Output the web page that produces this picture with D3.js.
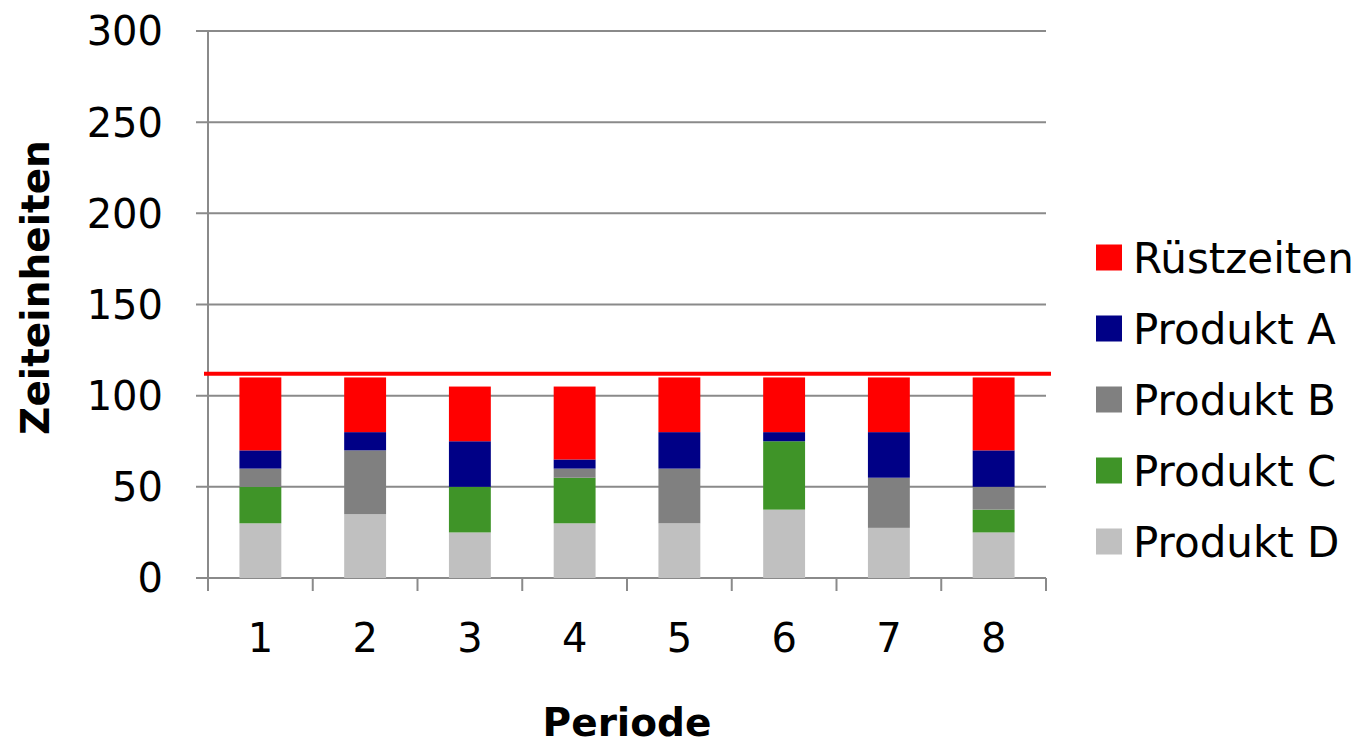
<!DOCTYPE html>
<html>
<head>
<meta charset="utf-8">
<script src="https://cdn.jsdelivr.net/npm/d3@7"></script>
<style>
  html, body { margin: 0; padding: 0; background: #fff; }
  svg { display: block; }
  text { font-family: "DejaVu Sans", sans-serif; fill: #000; }
</style>
</head>
<body>
<svg id="chart" width="1364" height="744"></svg>
<script>
// Periods on the x axis
const periods = ["1", "2", "3", "4", "5", "6", "7", "8"];

// Time units per period, stacked bottom to top
const produktD = [30, 35, 25, 30, 30, 37.5, 27.5, 25];
const produktC = [20, 0, 25, 25, 0, 37.5, 0, 12.5];
const produktB = [10, 35, 0, 5, 30, 0, 27.5, 12.5];
const produktA = [10, 10, 25, 5, 20, 5, 25, 20];
const ruestzeiten = [40, 30, 30, 40, 30, 30, 30, 40];

// Available capacity per period
const kapazitaet = 112;

const yTicks = [0, 50, 100, 150, 200, 250, 300];

const seriesNames = ["Produkt D", "Produkt C", "Produkt B", "Produkt A", "Rüstzeiten"];
const seriesValues = [produktD, produktC, produktB, produktA, ruestzeiten];
const seriesColors = ["#C0C0C0", "#3F9428", "#808080", "#000086", "#FF0000"];

const svg = d3.select("#chart");
const margin = { left: 208, right: 318, top: 31, bottom: 166 };
const W = 1364, H = 744;
const plotW = W - margin.left - margin.right;
const plotH = H - margin.top - margin.bottom;

const x = d3.scaleBand().domain(periods).range([margin.left, margin.left + plotW]).paddingInner(0.6).paddingOuter(0.3);
const xBand = d3.scaleBand().domain(periods).range([margin.left, margin.left + plotW]);
const y = d3.scaleLinear().domain([0, 300]).range([margin.top + plotH, margin.top]);

const gridColor = "#8A8A8A";

// Horizontal gridlines
svg.append("g")
  .selectAll("line")
  .data(yTicks)
  .join("line")
  .attr("x1", margin.left - 12)
  .attr("x2", margin.left + plotW)
  .attr("y1", d => y(d))
  .attr("y2", d => y(d))
  .attr("stroke", gridColor)
  .attr("stroke-width", 2);

// Y axis labels
svg.append("g")
  .selectAll("text")
  .data(yTicks)
  .join("text")
  .attr("x", 163)
  .attr("y", d => y(d))
  .attr("dy", "0.36em")
  .attr("text-anchor", "end")
  .style("font-size", "40px")
  .text(d => d);

// Stacked bars
const table = periods.map((p, i) => {
  const row = { period: p };
  seriesNames.forEach((s, k) => { row[s] = seriesValues[k][i]; });
  return row;
});
const stack = d3.stack().keys(seriesNames)(table);

svg.append("g")
  .selectAll("g")
  .data(stack)
  .join("g")
  .attr("fill", (d, k) => seriesColors[k])
  .selectAll("rect")
  .data(d => d.filter(s => s[1] - s[0] > 0))
  .join("rect")
  .attr("x", d => x(d.data.period))
  .attr("width", x.bandwidth())
  .attr("y", d => y(d[1]))
  .attr("height", d => y(d[0]) - y(d[1]));

// Axes lines and ticks
const axisG = svg.append("g").attr("stroke", gridColor).attr("stroke-width", 2);
axisG.append("line")
  .attr("x1", margin.left).attr("x2", margin.left)
  .attr("y1", margin.top).attr("y2", margin.top + plotH + 13);
axisG.selectAll("line.xt")
  .data(periods.slice(1).concat(["end"]))
  .join("line")
  .attr("class", "xt")
  .attr("x1", d => d === "end" ? margin.left + plotW : xBand(d))
  .attr("x2", d => d === "end" ? margin.left + plotW : xBand(d))
  .attr("y1", margin.top + plotH)
  .attr("y2", margin.top + plotH + 13);

// X axis labels
svg.append("g")
  .selectAll("text")
  .data(periods)
  .join("text")
  .attr("x", d => xBand(d) + xBand.bandwidth() / 2)
  .attr("y", 652)
  .attr("text-anchor", "middle")
  .style("font-size", "40px")
  .text(d => d);

// Capacity line
svg.append("line")
  .attr("x1", margin.left - 4)
  .attr("x2", margin.left + plotW + 5)
  .attr("y1", y(kapazitaet))
  .attr("y2", y(kapazitaet))
  .attr("stroke", "#FF0000")
  .attr("stroke-width", 4);

// Axis titles
svg.append("text")
  .attr("transform", `translate(49, ${y(150) - 17}) rotate(-90)`)
  .attr("text-anchor", "middle")
  .style("font-size", "39px")
  .style("font-weight", "bold")
  .text("Zeiteinheiten");

svg.append("text")
  .attr("x", xBand("4") + xBand.bandwidth())
  .attr("y", 736)
  .attr("text-anchor", "middle")
  .style("font-size", "39px")
  .style("font-weight", "bold")
  .text("Periode");

// Legend, top entry is the top of the stack
const legendOrder = seriesNames.map((n, k) => ({ name: n, color: seriesColors[k] })).reverse();
const legend = svg.append("g")
  .selectAll("g")
  .data(legendOrder)
  .join("g")
  .attr("transform", (d, i) => `translate(1096, ${257.5 + i * 71})`);
legend.append("rect")
  .attr("x", 0).attr("y", -13)
  .attr("width", 26).attr("height", 26)
  .attr("fill", d => d.color);
legend.append("text")
  .attr("x", 37)
  .attr("y", 0)
  .attr("dy", "0.36em")
  .style("font-size", "42px")
  .text(d => d.name);
</script>
</body>
</html>
